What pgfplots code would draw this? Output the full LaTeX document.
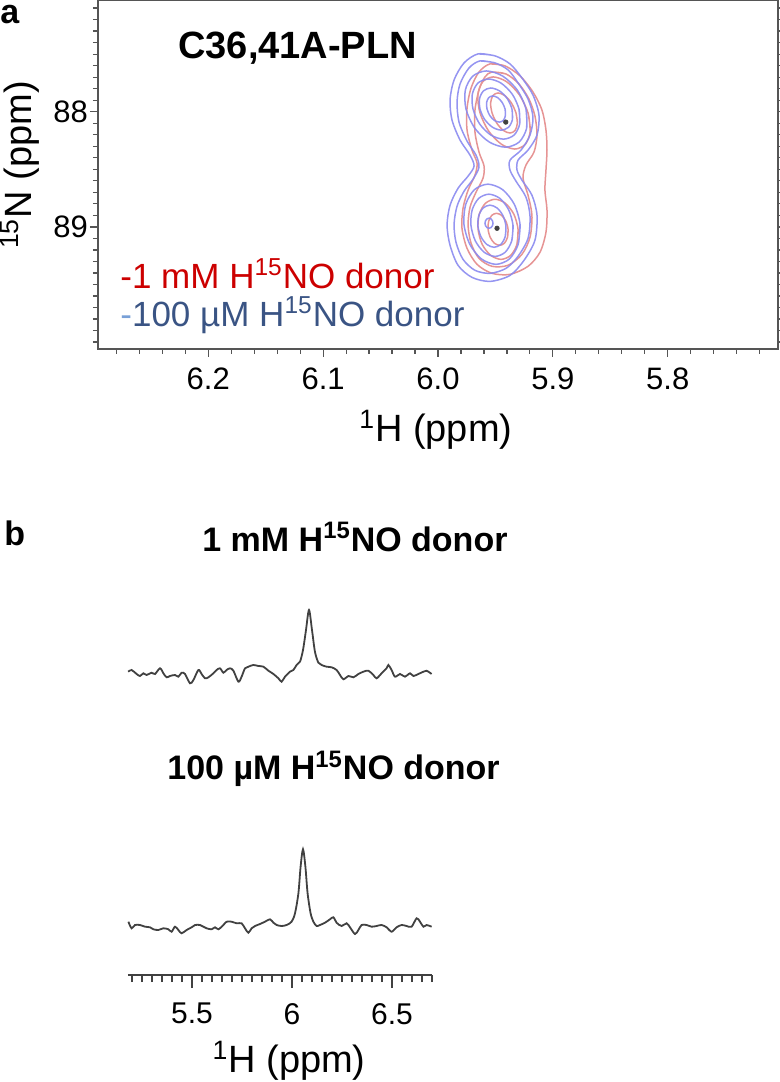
\documentclass[border=0pt]{standalone}
\usepackage{fontspec}
\setmainfont{Liberation Sans}
\usepackage{pgfplots}
\pgfplotsset{compat=1.18}

\definecolor{bluecont}{RGB}{138,138,240}
\definecolor{redcont}{RGB}{230,148,148}
\definecolor{legred}{RGB}{204,0,0}
\definecolor{legblue}{RGB}{58,84,132}
\definecolor{dashblue}{RGB}{120,160,215}
\definecolor{axgray}{RGB}{85,85,85}
\definecolor{spec}{RGB}{65,65,65}

\begin{document}
\begin{tikzpicture}
\node[anchor=west,inner sep=0pt,font=\fontsize{17}{20}\selectfont\bfseries] at (0pt,533.5pt) {a};
\node[anchor=west,inner sep=0pt,font=\fontsize{17}{20}\selectfont\bfseries] at (2pt,274.5pt) {b};

% ---- panel a: 2D contour overlay ----
\begin{axis}[
    at={(219pt,453.75pt)}, anchor=center,
    scale only axis, width=340pt, height=174.5pt,
    xmin=5.704, xmax=6.296, x dir=reverse,
    ymin=87.03, ymax=90.06, y dir=reverse,
    xtick={5.8,5.9,6.0,6.1,6.2}, xticklabels={5.8,5.9,6.0,6.1,6.2},
    minor xtick={5.72,5.74,...,6.29},
    ytick={88,89}, yticklabels={88,89},
    minor ytick={87.1,87.2,...,90.01},
    tick align=outside,
    major tick length=4pt, minor tick length=2.5pt,
    every tick/.style={axgray, line width=0.6pt},
    axis line style={axgray, line width=0.8pt},
    tick label style={font=\fontsize{15.5}{18}\selectfont},
    xticklabel style={yshift=-2pt},
    yticklabel style={xshift=2.5pt},
    /pgf/number format/assume math mode=true,
    xlabel={\textsuperscript{1}H (ppm)},
    ylabel={\textsuperscript{15}N (ppm)},
    label style={font=\fontsize{19}{22}\selectfont},
    xlabel style={at={(axis description cs:0.497,-0.232)}, anchor=center},
    ylabel style={at={(axis description cs:-0.1147,0.527)}, anchor=center},
    clip=false,
]
% red contours (1 mM)
\addplot[redcont, line width=0.75pt, smooth] coordinates {
(5.9547,87.585) (5.9417,87.602) (5.9286,87.689) (5.9173,87.829) (5.9095,87.985) (5.9060,88.159)
(5.9051,88.333) (5.9060,88.507) (5.9069,88.681) (5.9051,88.855) (5.9060,89.046) (5.9112,89.220)
(5.9216,89.342) (5.9373,89.412) (5.9530,89.403) (5.9660,89.325) (5.9747,89.186) (5.9791,89.012)
(5.9782,88.838) (5.9738,88.681) (5.9678,88.551) (5.9660,88.446) (5.9704,88.333) (5.9747,88.159)
(5.9747,87.968) (5.9712,87.794) (5.9643,87.655) (5.9547,87.585) (5.9417,87.602)};
\addplot[redcont, line width=0.75pt, smooth] coordinates {
(5.9530,87.655) (5.9408,87.672) (5.9295,87.759) (5.9208,87.890) (5.9156,88.037) (5.9138,88.203)
(5.9164,88.350) (5.9234,88.463) (5.9260,88.576) (5.9216,88.725) (5.9182,88.899) (5.9199,89.090)
(5.9269,89.238) (5.9390,89.333) (5.9530,89.342) (5.9643,89.273) (5.9712,89.142) (5.9738,88.986)
(5.9721,88.829) (5.9669,88.699) (5.9608,88.577) (5.9599,88.472) (5.9643,88.350) (5.9678,88.177)
(5.9678,87.985) (5.9643,87.811) (5.9591,87.698) (5.9530,87.655) (5.9408,87.672)};
\addplot[redcont, line width=0.75pt, smooth] coordinates {
(5.9216,88.011) (5.9197,88.168) (5.9239,88.282) (5.9331,88.324) (5.9448,88.282) (5.9559,88.168)
(5.9634,88.011) (5.9653,87.854) (5.9611,87.740) (5.9519,87.698) (5.9402,87.740) (5.9291,87.854)
(5.9216,88.011) (5.9197,88.168)};
\addplot[redcont, line width=0.75pt, smooth] coordinates {
(5.9321,88.011) (5.9309,88.098) (5.9328,88.162) (5.9373,88.185) (5.9432,88.162) (5.9489,88.098)
(5.9529,88.011) (5.9542,87.924) (5.9522,87.860) (5.9477,87.837) (5.9418,87.860) (5.9361,87.924)
(5.9321,88.011) (5.9309,88.098)};
\addplot[redcont, line width=0.75pt, smooth] coordinates {
(5.9303,89.021) (5.9313,89.152) (5.9367,89.247) (5.9451,89.282) (5.9541,89.247) (5.9615,89.152)
(5.9651,89.021) (5.9641,88.891) (5.9587,88.795) (5.9503,88.760) (5.9413,88.795) (5.9339,88.891)
(5.9303,89.021) (5.9313,89.152)};
\addplot[redcont, line width=0.75pt, smooth] coordinates {
(5.9390,89.021) (5.9395,89.091) (5.9422,89.142) (5.9463,89.160) (5.9509,89.142) (5.9545,89.091)
(5.9564,89.021) (5.9559,88.951) (5.9532,88.900) (5.9491,88.882) (5.9446,88.900) (5.9409,88.951)
(5.9390,89.021) (5.9395,89.091)};
% blue contours (100 uM)
\addplot[bluecont, opacity=0.9, line width=0.75pt, smooth] coordinates {
(5.9651,87.498) (5.9504,87.515) (5.9373,87.585) (5.9269,87.707) (5.9173,87.855) (5.9121,88.029)
(5.9138,88.203) (5.9216,88.333) (5.9303,88.420) (5.9312,88.507) (5.9269,88.594) (5.9182,88.725)
(5.9138,88.899) (5.9156,89.116) (5.9251,89.290) (5.9373,89.421) (5.9547,89.473) (5.9704,89.438)
(5.9825,89.334) (5.9895,89.160) (5.9921,88.986) (5.9895,88.812) (5.9825,88.664) (5.9738,88.559)
(5.9686,88.472) (5.9721,88.377) (5.9808,88.246) (5.9878,88.072) (5.9895,87.898) (5.9860,87.724)
(5.9773,87.576) (5.9651,87.498) (5.9504,87.515)};
\addplot[bluecont, opacity=0.9, line width=0.75pt, smooth] coordinates {
(5.9634,87.559) (5.9504,87.576) (5.9390,87.637) (5.9303,87.750) (5.9216,87.890) (5.9173,88.046)
(5.9199,88.203) (5.9277,88.333) (5.9373,88.420) (5.9373,88.507) (5.9321,88.603) (5.9234,88.742)
(5.9199,88.907) (5.9216,89.099) (5.9303,89.255) (5.9408,89.360) (5.9547,89.403) (5.9678,89.377)
(5.9782,89.282) (5.9843,89.134) (5.9860,88.977) (5.9834,88.820) (5.9773,88.690) (5.9695,88.586)
(5.9643,88.481) (5.9669,88.377) (5.9747,88.255) (5.9817,88.090) (5.9834,87.916) (5.9808,87.759)
(5.9730,87.620) (5.9634,87.559) (5.9504,87.576)};
\addplot[bluecont, opacity=0.9, line width=0.75pt, smooth] coordinates {
(5.9234,87.977) (5.9228,88.142) (5.9293,88.263) (5.9412,88.308) (5.9554,88.263) (5.9680,88.142)
(5.9756,87.977) (5.9762,87.812) (5.9697,87.691) (5.9578,87.646) (5.9436,87.691) (5.9310,87.812)
(5.9234,87.977) (5.9228,88.142)};
\addplot[bluecont, opacity=0.9, line width=0.75pt, smooth] coordinates {
(5.9295,87.977) (5.9289,88.108) (5.9338,88.203) (5.9430,88.238) (5.9539,88.203) (5.9636,88.108)
(5.9695,87.977) (5.9701,87.847) (5.9652,87.751) (5.9560,87.716) (5.9452,87.751) (5.9354,87.847)
(5.9295,87.977) (5.9289,88.108)};
\addplot[bluecont, opacity=0.9, line width=0.75pt, smooth] coordinates {
(5.9356,87.977) (5.9352,88.068) (5.9386,88.135) (5.9449,88.160) (5.9525,88.135) (5.9593,88.068)
(5.9634,87.977) (5.9638,87.886) (5.9604,87.819) (5.9541,87.794) (5.9465,87.819) (5.9397,87.886)
(5.9356,87.977) (5.9352,88.068)};
\addplot[bluecont, opacity=0.9, line width=0.75pt, smooth] coordinates {
(5.9416,87.977) (5.9413,88.033) (5.9431,88.075) (5.9466,88.090) (5.9510,88.075) (5.9549,88.033)
(5.9573,87.977) (5.9577,87.920) (5.9558,87.878) (5.9524,87.863) (5.9480,87.878) (5.9441,87.920)
(5.9416,87.977) (5.9413,88.033)};
\addplot[bluecont, opacity=0.9, line width=0.75pt, smooth] coordinates {
(5.9286,88.977) (5.9302,89.151) (5.9378,89.278) (5.9495,89.325) (5.9622,89.278) (5.9723,89.151)
(5.9774,88.977) (5.9758,88.803) (5.9682,88.676) (5.9565,88.629) (5.9438,88.676) (5.9336,88.803)
(5.9286,88.977) (5.9302,89.151)};
\addplot[bluecont, opacity=0.9, line width=0.75pt, smooth] coordinates {
(5.9347,88.986) (5.9358,89.121) (5.9415,89.220) (5.9503,89.256) (5.9598,89.220) (5.9675,89.121)
(5.9713,88.986) (5.9702,88.851) (5.9645,88.752) (5.9557,88.716) (5.9462,88.752) (5.9385,88.851)
(5.9347,88.986) (5.9358,89.121)};
\addplot[bluecont, opacity=0.9, line width=0.75pt, smooth] coordinates {
(5.9408,88.994) (5.9415,89.085) (5.9453,89.152) (5.9512,89.177) (5.9575,89.152) (5.9626,89.085)
(5.9652,88.994) (5.9645,88.903) (5.9607,88.836) (5.9548,88.811) (5.9485,88.836) (5.9434,88.903)
(5.9408,88.994) (5.9415,89.085)};
\addplot[bluecont, opacity=0.9, line width=0.75pt, smooth] coordinates {
(5.9521,88.968) (5.9526,88.990) (5.9539,89.006) (5.9556,89.012) (5.9573,89.006) (5.9586,88.990)
(5.9591,88.968) (5.9586,88.946) (5.9573,88.930) (5.9556,88.924) (5.9539,88.930) (5.9526,88.946)
(5.9521,88.968) (5.9526,88.990)};
% peak centres
\addplot[only marks, mark=*, mark size=1.1pt, black!75] coordinates {(5.941,88.09) (5.9486,89.012)};

\node[anchor=west, inner sep=0pt, font=\fontsize{19}{22}\selectfont\bfseries] at (axis description cs:0.1176,0.8625) {C36,41A-PLN};
\node[anchor=west, inner sep=0pt, font=\fontsize{17.5}{20}\selectfont, text=legred] at (axis description cs:0.0324,0.215) {-1 mM H\textsuperscript{15}NO donor};
\node[anchor=west, inner sep=0pt, font=\fontsize{17.5}{20}\selectfont, text=legblue] at (axis description cs:0.0324,0.097) {\textcolor{dashblue}{-}100 µM H\textsuperscript{15}NO donor};
\end{axis}

% ---- panel b: 1D slices ----
\begin{axis}[
    at={(140pt,163.5pt)}, anchor=center,
    scale only axis, width=152pt, height=220pt,
    xmin=5.18, xmax=6.70, ymin=0, ymax=440,
    axis x line=bottom, axis y line=none,
    axis line style={-, spec, line width=0.8pt},
    xtick={5.5,6,6.5}, xticklabels={5.5,6,6.5},
    minor xtick={5.2,5.25,...,6.71},
    tick align=outside,
    major tick length=6.5pt, minor tick length=3.5pt,
    every tick/.style={spec, line width=0.6pt},
    tick label style={font=\fontsize{15}{18}\selectfont},
    xticklabel style={yshift=-4pt},
    /pgf/number format/assume math mode=true,
    xlabel={\textsuperscript{1}H (ppm)},
    label style={font=\fontsize{19}{22}\selectfont},
    xlabel style={at={(axis description cs:0.53,-0.195)}, anchor=center},
    clip=false,
]
% 1 mM slice
\addplot[spec, line width=0.9pt, smooth] coordinates {
(5.181,303.3) (5.198,305) (5.223,301) (5.240,299) (5.257,301.7) (5.273,300) (5.298,302.3)
(5.315,301) (5.340,306.7) (5.357,301.7) (5.373,297.7) (5.390,299) (5.415,300) (5.432,298.3)
(5.448,302.3) (5.465,301) (5.490,291.7) (5.507,295) (5.532,305) (5.548,301) (5.565,296.7)
(5.582,297.7) (5.607,301.7) (5.623,305) (5.640,306.7) (5.657,302.3) (5.673,305) (5.690,306.7)
(5.707,304.3) (5.732,293.3) (5.748,298.3) (5.765,306.7) (5.782,308.3) (5.807,310) (5.832,309)
(5.857,308.3) (5.882,304.3) (5.907,301) (5.932,296.7) (5.948,293.3) (5.965,298.3) (5.990,303.3)
(6.007,305) (6.023,310) (6.040,313.3) (6.055,325) (6.070,345) (6.085,365) (6.100,345)
(6.115,323) (6.132,312.3) (6.148,310) (6.173,308.3) (6.198,307.7) (6.223,305) (6.240,300)
(6.257,295.7) (6.282,299) (6.307,297.7) (6.332,301) (6.357,303.3) (6.382,304.3) (6.407,300)
(6.423,296.7) (6.448,301.7) (6.473,306.7) (6.482,310) (6.498,305) (6.515,298.3) (6.540,301)
(6.565,298.3) (6.590,301.7) (6.607,299) (6.632,301) (6.657,303.3) (6.673,304.3) (6.698,301)};
% 100 uM slice
\addplot[spec, line width=0.9pt, smooth] coordinates {
(5.182,53.3) (5.198,46.7) (5.215,50) (5.240,50) (5.265,48.3) (5.290,47.7) (5.307,45.7)
(5.332,45) (5.357,46.7) (5.382,45.7) (5.398,43.3) (5.415,48.3) (5.432,45) (5.448,41.7)
(5.473,45) (5.498,47.7) (5.515,50) (5.540,50) (5.557,48.3) (5.573,46.7) (5.598,45.7)
(5.615,47.7) (5.632,45.7) (5.657,50) (5.673,53.3) (5.698,53.3) (5.723,51.7) (5.748,51.7)
(5.765,46.7) (5.782,42.3) (5.798,46.7) (5.815,49) (5.840,51) (5.865,53.3) (5.890,55.7)
(5.907,52.3) (5.923,50) (5.948,49) (5.973,50) (5.998,53.3) (6.015,61.7) (6.032,81.7)
(6.043,108.3) (6.055,125.7) (6.067,108.3) (6.078,81.7) (6.093,61.7) (6.107,53.3) (6.123,49)
(6.140,50) (6.165,52.3) (6.190,55.7) (6.207,57.7) (6.223,52.3) (6.248,49) (6.273,51.7)
(6.290,47.7) (6.315,41) (6.332,45) (6.348,50) (6.373,50) (6.398,48.3) (6.423,49)
(6.448,50) (6.473,47.7) (6.498,43.3) (6.523,47.7) (6.548,50) (6.573,49) (6.598,48.3)
(6.623,56.7) (6.640,53.3) (6.657,48.3) (6.673,50) (6.698,48.3)};

\node[anchor=west, inner sep=0pt, font=\fontsize{17}{20}\selectfont\bfseries] at (axis cs:5.55,438) {1 mM H\textsuperscript{15}NO donor};
\node[anchor=west, inner sep=0pt, font=\fontsize{17}{20}\selectfont\bfseries] at (axis cs:5.375,206) {100 µM H\textsuperscript{15}NO donor};
\end{axis}
\pgfresetboundingbox
\path[use as bounding box] (0pt,0pt) rectangle (390pt,541pt);
\end{tikzpicture}
\end{document}
